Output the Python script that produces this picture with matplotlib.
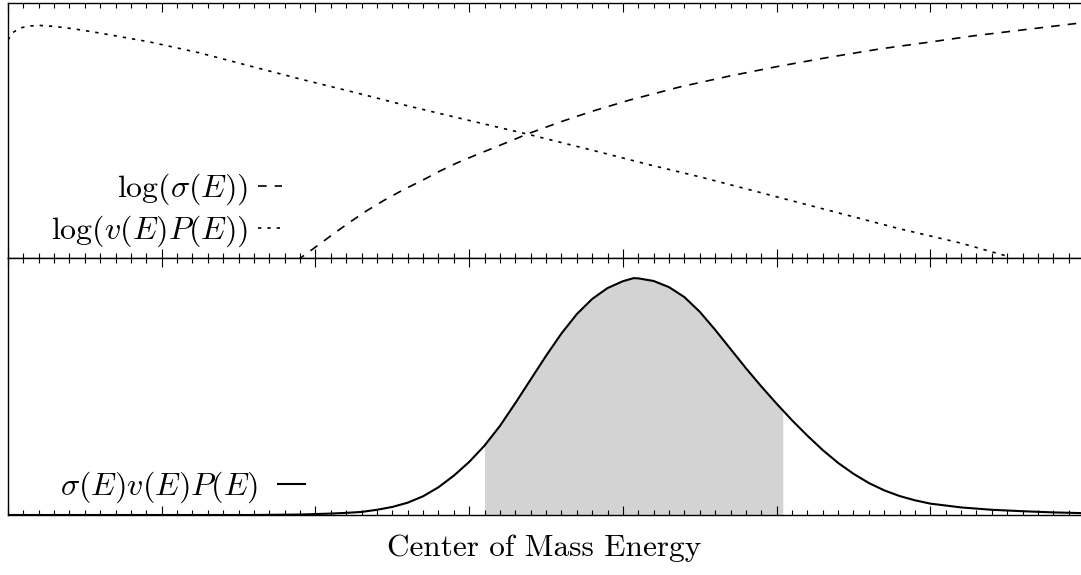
import numpy as np
import matplotlib
matplotlib.use("Agg")
import matplotlib.pyplot as plt
from matplotlib.ticker import MultipleLocator

plt.rcParams["font.family"] = "serif"
plt.rcParams["font.serif"] = ["cmr10", "DejaVu Serif"]
plt.rcParams["mathtext.fontset"] = "cm"
plt.rcParams["axes.formatter.use_mathtext"] = True

# =========================================
# CURVES (arbitrary units)
# =========================================

# log(v(E)P(E)) - falls off with energy
E_vp = [0.00, 0.026, 0.078, 0.143, 0.208, 0.306, 0.436, 0.599, 0.924, 1.249,
        1.574, 1.900, 2.271, 2.550, 2.876, 3.377, 3.819, 4.177, 4.502, 4.828,
        5.153, 5.478, 5.804, 6.194, 6.519]
log_vp = [0.855, 0.882, 0.902, 0.910, 0.912, 0.908, 0.898, 0.882, 0.847, 0.804,
          0.753, 0.702, 0.647, 0.604, 0.557, 0.486, 0.420, 0.365, 0.318, 0.267,
          0.216, 0.165, 0.114, 0.059, 0.004]

# log(sigma(E)) - rises with energy
E_sigma = [1.880, 2.010, 2.120, 2.225, 2.330, 2.440, 2.570, 2.700, 2.810, 2.921,
           3.040, 3.155, 3.270, 3.377, 3.591, 3.787, 4.047, 4.372, 4.697, 5.023,
           5.348, 5.673, 5.999, 6.278, 6.649, 6.981]
log_sigma = [-0.01, 0.047, 0.096, 0.141, 0.184, 0.224, 0.267, 0.306, 0.341, 0.373,
             0.403, 0.431, 0.459, 0.486, 0.533, 0.573, 0.620, 0.671, 0.714, 0.753,
             0.788, 0.820, 0.847, 0.871, 0.898, 0.922]

# sigma(E)v(E)P(E) - Gamow peak
E_peak = [0.0, 1.6, 1.9, 2.0, 2.1, 2.2, 2.3, 2.4, 2.5, 2.6,
          2.7, 2.8, 2.9, 3.0, 3.1, 3.2, 3.3, 3.4, 3.5, 3.6,
          3.7, 3.8, 3.9, 4.0, 4.07, 4.1, 4.2, 4.3, 4.4, 4.5,
          4.6, 4.7, 4.8, 4.9, 5.0, 5.04, 5.1, 5.2, 5.3, 5.4,
          5.5, 5.6, 5.7, 5.8, 5.9, 6.0, 6.2, 6.4, 6.6, 6.8, 6.98]
rate = [0.000, 0.000, 0.002, 0.004, 0.006, 0.009, 0.013, 0.022, 0.034, 0.052,
        0.079, 0.117, 0.166, 0.224, 0.293, 0.376, 0.472, 0.572, 0.672, 0.766,
        0.848, 0.912, 0.958, 0.987, 1.000, 0.999, 0.988, 0.962, 0.920, 0.858,
        0.782, 0.701, 0.620, 0.543, 0.470, 0.442, 0.400, 0.335, 0.274, 0.220,
        0.174, 0.135, 0.104, 0.080, 0.062, 0.048, 0.032, 0.022, 0.016, 0.011, 0.008]

# energy window that dominates the reaction rate
window = (3.10, 5.04)

E_peak = np.array(E_peak)
rate = np.array(rate)

# =========================================
# FIGURE
# =========================================

fig = plt.figure(figsize=(10.81, 5.75), dpi=100)
ax_top = fig.add_axes([8 / 1081, 1 - 258 / 575, 1 - 8 / 1081, 255 / 575])
ax_bot = fig.add_axes([8 / 1081, 1 - 515 / 575, 1 - 8 / 1081, 257 / 575])

ax_top.plot(E_sigma, log_sigma, color="black", lw=1.2, dashes=(5.2, 4.8),
            label=r"$\log(\sigma(E))$")
ax_top.plot(E_vp, log_vp, color="black", lw=1.2, dashes=(2.0, 3.6),
            label=r"$\log(v(E)P(E))$")
ax_top.set_ylim(0, 1)

in_window = (E_peak >= window[0] - 1e-9) & (E_peak <= window[1] + 1e-9)
ax_bot.fill_between(E_peak, 0, rate, where=in_window, color="#d3d3d3", lw=0)
ax_bot.plot(E_peak, rate, color="black", lw=1.5, label=r"$\sigma(E)v(E)P(E)$")
ax_bot.set_ylim(0, 1.085)

for ax in (ax_top, ax_bot):
    ax.set_xlim(0, 6.98)
    ax.xaxis.set_major_locator(MultipleLocator(1))
    ax.xaxis.set_minor_locator(MultipleLocator(0.1))
    ax.tick_params(axis="x", which="both", direction="in", top=True, bottom=True,
                   labelbottom=False, labeltop=False, width=0.8)
    ax.tick_params(axis="x", which="major", length=6.5)
    ax.tick_params(axis="x", which="minor", length=3.5)
    ax.set_yticks([])
    ax.spines["right"].set_visible(False)
    for s in ax.spines.values():
        s.set_linewidth(1.0)

ax_top.legend(loc="lower right", bbox_to_anchor=(0.255, 0.035), markerfirst=False,
              frameon=False, fontsize=23, handlelength=0.75, handletextpad=0.3,
              borderpad=0, borderaxespad=0, labelspacing=0.2)
ax_bot.legend(loc="lower right", bbox_to_anchor=(0.277, 0.037), markerfirst=False,
              frameon=False, fontsize=23, handlelength=0.84, handletextpad=0.62,
              borderpad=0, borderaxespad=0)

ax_bot.set_xlabel("Center of Mass Energy", fontsize=22.5, labelpad=14)

fig.savefig("out.png", dpi=100)
